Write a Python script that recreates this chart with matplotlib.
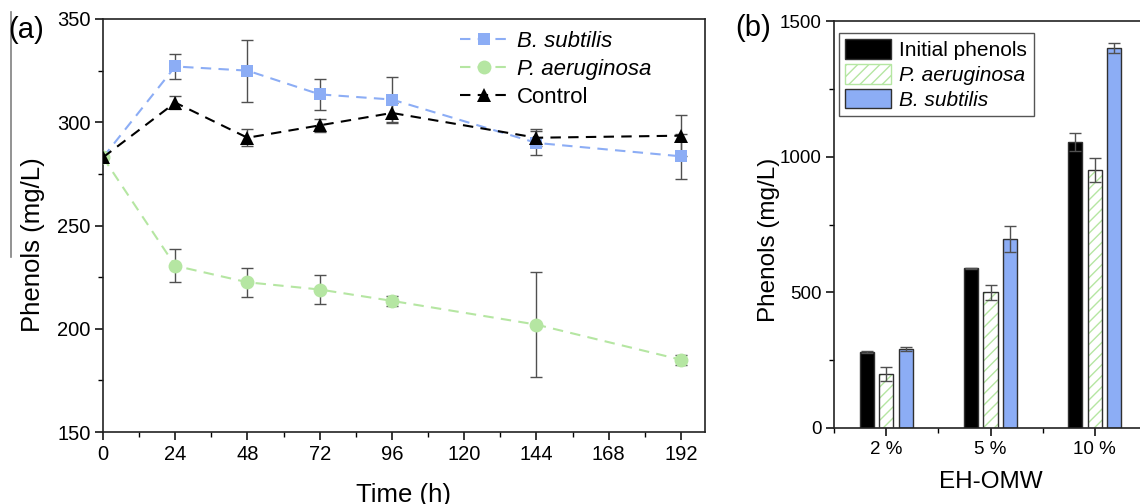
import matplotlib
matplotlib.use("Agg")
import matplotlib.pyplot as plt
from matplotlib.lines import Line2D
from matplotlib.patches import Patch
import numpy as np

plt.rcParams['font.family'] = ['Liberation Sans', 'DejaVu Sans']
plt.rcParams['hatch.linewidth'] = 1.0

# ---------------- data: panel (a) ----------------
time_h = [0, 24, 48, 72, 96, 144, 192]
bsub_a = [283, 327, 325, 313.5, 311, 290, 283.5]
bsub_a_err = [0, 6, 15, 7.5, 11, 6, 11]
paer_a = [283, 230.5, 222.5, 219, 213.5, 202, 185]
paer_a_err = [0, 8, 7, 7, 2.5, 25.5, 2.5]
ctrl_a = [283, 309.5, 292.5, 298.5, 304.5, 292.5, 293.5]
ctrl_a_err = [0, 3, 4, 3, 5, 4, 10]

# ---------------- data: panel (b) ----------------
dilutions = ['2 %', '5 %', '10 %']
initial_b = [281, 588, 1053]
initial_b_err = [3, 3, 33]
paer_b = [199, 500, 951]
paer_b_err = [27, 27, 43]
bsub_b = [290, 697, 1401]
bsub_b_err = [8, 49, 19]

c_blue = '#8CADF5'
c_green = '#B5E6A2'
c_err = '#505050'
c_edge = '#303030'

fig = plt.figure(figsize=(11.4, 5.04), dpi=100)

# ---------------- panel (a) ----------------
ax = fig.add_axes([103/1140, 1-432/504, (705-103)/1140, (432-19)/504])
series = [
    (bsub_a, bsub_a_err, c_blue, 's', 'B. subtilis', 'italic', 9),
    (paer_a, paer_a_err, c_green, 'o', 'P. aeruginosa', 'italic', 10),
    (ctrl_a, ctrl_a_err, 'black', '^', 'Control', 'normal', 10),
]
handles = []
for vals, errs, col, mk, lab, sty, ms in series:
    ax.errorbar(time_h, vals, yerr=errs, fmt='none', ecolor=c_err,
                elinewidth=1.0, capsize=4, capthick=1.0, zorder=2)
    ln, = ax.plot(time_h, vals, linestyle=(0, (5, 3.5)), color=col, lw=1.5,
                  marker=mk, markersize=ms, markeredgewidth=0, zorder=3,
                  label=lab)
    handles.append(ln)

ax.set_xlim(0, 200)
ax.set_ylim(150, 350)
ax.set_xticks(np.arange(0, 193, 24))
ax.set_xticks(np.arange(12, 200, 24), minor=True)
ax.set_yticks(np.arange(150, 351, 50))
ax.set_yticks(np.arange(175, 350, 50), minor=True)
ax.tick_params(which='major', direction='out', length=6, width=1.1,
               labelsize=14.5, pad=3)
ax.tick_params(which='minor', direction='out', length=3.5, width=1.0)
for sp in ax.spines.values():
    sp.set_linewidth(1.2)
    sp.set_color('#222222')
ax.set_xlabel('Time (h)', fontsize=18.5, labelpad=14)
ax.set_ylabel('Phenols (mg/L)', fontsize=18.5)
ax.yaxis.set_label_coords(-0.096, 0.453)

leg = ax.legend(handles=handles, loc='upper left', bbox_to_anchor=(0.572, 1.0),
                frameon=False, fontsize=16, handlelength=2.2, handletextpad=0.4,
                labelspacing=0.3, numpoints=1, borderaxespad=0.15)
for t, (_, _, _, _, _, sty, _) in zip(leg.get_texts(), series):
    t.set_fontstyle(sty)

fig.text(8/1140, 1-30/504, '(a)', fontsize=21, va='center', ha='left')
fig.add_artist(Line2D([11/1140, 11/1140], [1-12/504, 1-257/504],
                      color='#808080', lw=1.2))

# ---------------- panel (b) ----------------
bx = fig.add_axes([834/1140, 1-428/504, (1147-834)/1140, (428-21)/504])
x = np.arange(len(dilutions))
off = 0.1875
w = 0.135
ek = dict(ecolor=c_err, elinewidth=1.0, capsize=4, capthick=1.0)
bx.bar(x - off, initial_b, w, color='black', edgecolor=c_edge, lw=1.0,
       yerr=initial_b_err, error_kw=ek, zorder=2)
bx.bar(x, paer_b, w, color='white', edgecolor=c_green, lw=0, hatch='///',
       zorder=2)
bx.bar(x, paer_b, w, color='none', edgecolor=c_edge, lw=1.0,
       yerr=paer_b_err, error_kw=ek, zorder=3)
bx.bar(x + off, bsub_b, w, color=c_blue, edgecolor=c_edge, lw=1.0,
       yerr=bsub_b_err, error_kw=ek, zorder=2)

bx.set_xlim(-0.5, 2.5)
bx.set_ylim(0, 1500)
bx.set_xticks(x)
bx.set_xticklabels(dilutions)
bx.set_xticks([-0.5, 0.5, 1.5, 2.5], minor=True)
bx.set_yticks([0, 500, 1000, 1500])
bx.set_yticks([250, 750, 1250], minor=True)
bx.tick_params(which='major', direction='out', length=6, width=1.1,
               labelsize=13.5, pad=3)
bx.tick_params(which='minor', direction='out', length=3.5, width=1.0)
for sp in bx.spines.values():
    sp.set_linewidth(1.2)
    sp.set_color('#222222')
bx.set_xlabel('EH-OMW', fontsize=17.5, labelpad=10)
bx.set_ylabel('Phenols (mg/L)', fontsize=17.5)
bx.yaxis.set_label_coords(-0.172, 0.462)

h1 = Patch(facecolor='black', edgecolor=c_edge, lw=1.0)
h2 = Patch(facecolor='white', edgecolor=c_green, hatch='///', lw=1.0)
h3 = Patch(facecolor=c_blue, edgecolor=c_edge, lw=1.0)
leg2 = bx.legend([h1, h2, h3], ['Initial phenols', 'P. aeruginosa', 'B. subtilis'],
                 loc='upper left', bbox_to_anchor=(0.016, 0.9705),
                 fontsize=15, handlelength=2.2, handleheight=1.05,
                 handletextpad=0.4, labelspacing=0.2, fancybox=False,
                 edgecolor='#555555', framealpha=1, borderpad=0.3,
                 borderaxespad=0)
leg2.get_frame().set_linewidth(1.0)
leg2.get_texts()[1].set_fontstyle('italic')
leg2.get_texts()[2].set_fontstyle('italic')

fig.text(735/1140, 1-28/504, '(b)', fontsize=21, va='center', ha='left')

fig.savefig('out.png', dpi=100)
